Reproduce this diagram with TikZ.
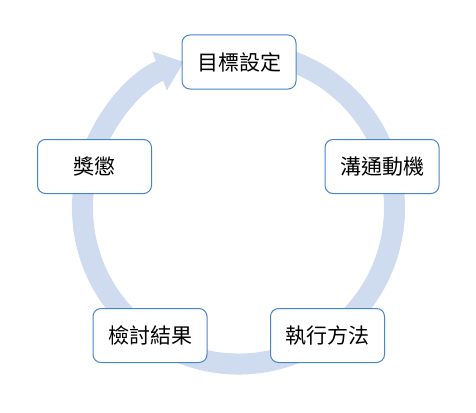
\documentclass[tikz,border=0pt]{standalone}
\usepackage{fontspec}
\newfontfamily\cjk{Noto Sans CJK TC}
\usetikzlibrary{arrows.meta}
\definecolor{ringblue}{RGB}{207,220,240}
\definecolor{boxblue}{RGB}{70,134,200}
\begin{document}
\begin{tikzpicture}[x=1bp,y=1bp,
  box/.style={draw=boxblue,line width=1bp,fill=white,rounded corners=8bp,
    minimum width=114bp,minimum height=54bp,font=\cjk\fontsize{21bp}{25bp}\selectfont},
  ring/.style={draw=ringblue,line width=21bp,-{Triangle[width=40bp,length=26bp]}}]
\useasboundingbox (0,0) rectangle (476,412);
\coordinate (c) at (238.5,204);
% cycle arrow behind the boxes
\draw[ring] ([shift={(75:156)}]c) arc[start angle=75,end angle=-249.5,radius=156];
% steps
\node[box] (goal) at (239,350) {目標設定};
\node[box] (motive) at (382,245.5) {溝通動機};
\node[box] (method) at (327.5,76.5) {執行方法};
\node[box] (review) at (150,76.5) {檢討結果};
\node[box] (reward) at (94.5,245.5) {獎懲};
\end{tikzpicture}
\end{document}
